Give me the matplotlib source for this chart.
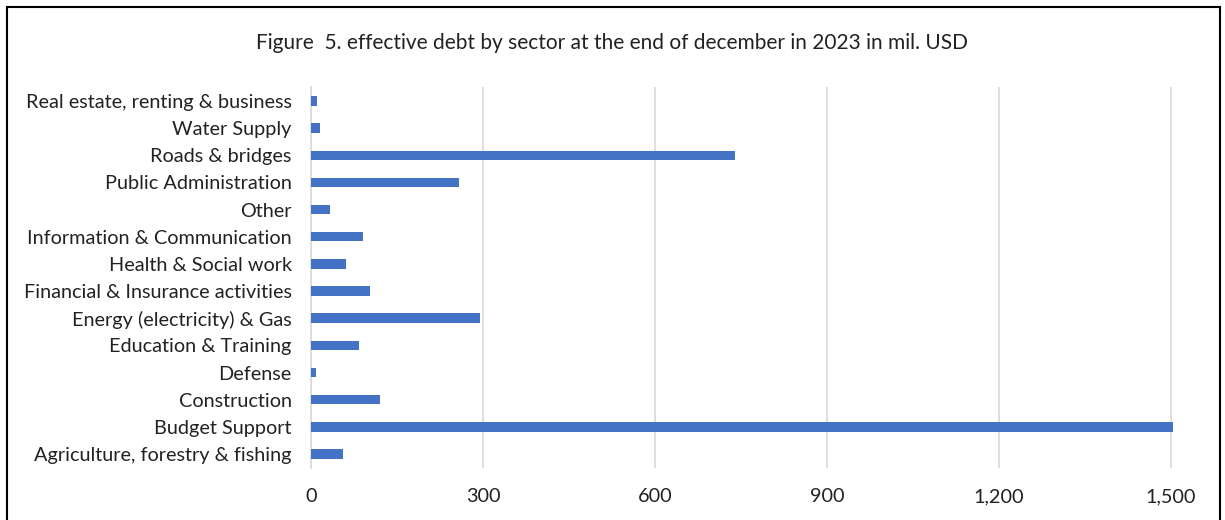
import matplotlib.pyplot as plt
from matplotlib.patches import Rectangle

plt.rcParams['font.family'] = ['Lato', 'DejaVu Sans']

sectors = [
    "Agriculture, forestry & fishing",
    "Budget Support",
    "Construction",
    "Defense",
    "Education & Training",
    "Energy (electricity) & Gas",
    "Financial & Insurance activities",
    "Health & Social work",
    "Information & Communication",
    "Other",
    "Public Administration",
    "Roads & bridges",
    "Water Supply",
    "Real estate, renting & business",
]
debt = [55, 1504, 120, 8, 83, 294, 102, 60, 91, 33, 257, 740, 15, 10]
x_ticks = [0, 300, 600, 900, 1200, 1500]

title = "Figure  5. effective debt by sector at the end of december in 2023 in mil. USD"
bar_color = "#4472C4"

fig = plt.figure(figsize=(12.25, 5.2), dpi=100)
ax = fig.add_axes([0.2541, 0.1008, 0.7034, 0.7312])

ax.barh(range(len(sectors)), debt, height=0.35, color=bar_color, zorder=3)

ax.set_xlim(0, 1504)
ax.set_ylim(-0.5, len(sectors) - 0.5)
ax.set_xticks(x_ticks)
ax.set_xticklabels([f"{v:,}" for v in x_ticks])
ax.set_yticks(range(len(sectors)))
ax.set_yticklabels(sectors)
ax.tick_params(axis='both', length=0, labelsize=14.3, colors='#222222')
ax.tick_params(axis='y', pad=14)
ax.tick_params(axis='x', pad=15)

ax.grid(axis='x', color='#D9D9D9', linewidth=1.2, zorder=0)
for side in ['top', 'right', 'bottom']:
    ax.spines[side].set_visible(False)
ax.spines['left'].set_color('#D9D9D9')
ax.spines['left'].set_linewidth(1.2)

fig.text(0.5, 0.917, title, ha='center', va='center', fontsize=15, color='#222222')

# chart frame
fig.patches.append(Rectangle((7 / 1225, -0.05), (1220 - 7) / 1225, 1.05 - 7 / 520,
                             transform=fig.transFigure, fill=False,
                             edgecolor='black', linewidth=1.5))

fig.savefig("out.png", dpi=100)
